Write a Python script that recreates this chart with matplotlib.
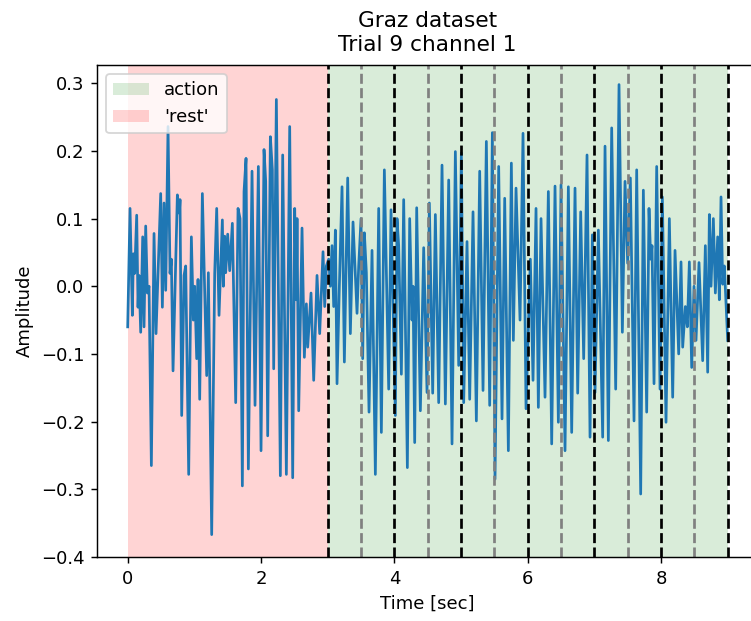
import numpy as np
import matplotlib
matplotlib.use("Agg")
from matplotlib import pyplot as plt

# signal (turning points), time in sec
time_sec = [
    0.0, 0.035, 0.07, 0.085, 0.105, 0.135, 0.155, 0.17, 0.195, 0.225,
    0.245, 0.27, 0.295, 0.32, 0.355, 0.395, 0.425, 0.445, 0.495, 0.52,
    0.545, 0.57, 0.605, 0.635, 0.655, 0.68, 0.745, 0.775, 0.785, 0.81,
    0.845, 0.87, 0.915, 0.955, 0.985, 1.005, 1.035, 1.055, 1.08, 1.12,
    1.185, 1.21, 1.26, 1.305, 1.335, 1.37, 1.42, 1.435, 1.455, 1.47,
    1.5, 1.53, 1.57, 1.62, 1.655, 1.685, 1.72, 1.745, 1.775, 1.81,
    1.865, 1.91, 1.96, 2.0, 2.045, 2.07, 2.1, 2.14, 2.17, 2.19,
    2.23, 2.29, 2.325, 2.38, 2.43, 2.475, 2.505, 2.53, 2.54, 2.565,
    2.615, 2.65, 2.68, 2.7, 2.75, 2.79, 2.84, 2.88, 2.93, 2.955,
    2.98, 3.015, 3.04, 3.065, 3.09, 3.115, 3.14, 3.175, 3.215, 3.25,
    3.3, 3.34, 3.38, 3.44, 3.465, 3.5, 3.525, 3.55, 3.58, 3.62,
    3.665, 3.715, 3.765, 3.805, 3.85, 3.915, 3.95, 4.015, 4.04, 4.065,
    4.105, 4.14, 4.195, 4.23, 4.265, 4.28, 4.305, 4.335, 4.39, 4.44,
    4.49, 4.525, 4.575, 4.615, 4.665, 4.715, 4.765, 4.815, 4.865, 4.915,
    4.965, 5.005, 5.04, 5.09, 5.13, 5.18, 5.23, 5.28, 5.33, 5.38,
    5.43, 5.47, 5.51, 5.565, 5.615, 5.655, 5.71, 5.755, 5.785, 5.825,
    5.885, 5.93, 5.975, 6.04, 6.08, 6.125, 6.16, 6.2, 6.26, 6.31,
    6.36, 6.41, 6.46, 6.5, 6.56, 6.61, 6.66, 6.71, 6.75, 6.795,
    6.84, 6.89, 6.935, 6.97, 7.01, 7.06, 7.125, 7.16, 7.21, 7.26,
    7.32, 7.37, 7.42, 7.46, 7.5, 7.54, 7.595, 7.635, 7.695, 7.735,
    7.785, 7.82, 7.845, 7.865, 7.895, 7.935, 7.985, 8.02, 8.075, 8.125,
    8.175, 8.21, 8.265, 8.3, 8.325, 8.365, 8.395, 8.425, 8.46, 8.495,
    8.525, 8.57, 8.625, 8.665, 8.7, 8.725, 8.75, 8.785, 8.815, 8.85,
    8.875, 8.9, 8.925, 8.95, 9.0,
]
amplitude = [
    -0.06, 0.115, -0.043, 0.048, 0.019, 0.105, -0.031, 0.016, -0.068, 0.073,
    -0.06, 0.089, -0.01, 0.0, -0.265, 0.078, -0.07, -0.01, 0.137, -0.031,
    0.123, -0.006, 0.236, 0.019, 0.04, -0.125, 0.135, 0.108, 0.128, -0.191,
    0.016, 0.03, -0.278, 0.073, -0.05, 0.0, -0.107, 0.01, -0.167, 0.137,
    -0.132, 0.02, -0.367, 0.019, 0.115, -0.043, 0.098, 0.0, 0.074, 0.02,
    0.077, 0.023, 0.093, -0.172, 0.115, 0.1, -0.295, 0.14, 0.189, -0.27,
    0.17, -0.176, 0.177, -0.243, 0.202, 0.155, -0.221, 0.221, 0.172, -0.122,
    0.276, -0.28, 0.194, -0.278, 0.236, -0.283, 0.115, -0.02, 0.1, -0.184,
    0.086, -0.105, -0.026, -0.09, -0.01, -0.139, 0.016, -0.07, 0.051, -0.03,
    0.03, 0.04, 0.0, 0.06, -0.03, 0.083, -0.144, 0.0, 0.147, -0.112,
    0.16, -0.07, 0.095, -0.04, 0.03, 0.1, -0.107, 0.079, 0.02, -0.186,
    0.053, -0.278, 0.115, -0.216, 0.172, -0.152, 0.113, -0.191, 0.1, 0.06,
    -0.13, 0.128, -0.268, 0.1, -0.05, 0.0, -0.231, 0.116, -0.184, 0.057,
    -0.157, 0.123, -0.158, 0.106, -0.172, 0.179, -0.174, 0.157, -0.233, 0.199,
    -0.117, 0.197, -0.172, 0.066, -0.167, 0.11, -0.199, 0.17, -0.154, 0.214,
    -0.176, 0.227, -0.285, 0.177, -0.196, 0.13, -0.243, 0.182, -0.08, 0.145,
    -0.05, 0.226, -0.181, 0.04, -0.139, 0.115, -0.179, 0.1, -0.164, 0.14,
    -0.233, 0.148, -0.201, 0.15, -0.243, 0.147, -0.216, 0.145, -0.158, 0.11,
    -0.107, 0.194, -0.223, 0.076, -0.157, 0.083, -0.223, 0.207, -0.228, 0.234,
    -0.152, 0.298, -0.068, 0.155, 0.034, 0.16, -0.199, 0.172, -0.307, 0.142,
    -0.186, 0.115, 0.04, 0.06, -0.144, 0.177, -0.152, 0.132, -0.201, 0.1,
    -0.164, 0.053, -0.1, 0.036, -0.09, -0.03, -0.06, 0.036, -0.12, 0.0,
    -0.08, 0.035, -0.11, 0.06, -0.127, 0.106, 0.0, 0.1, -0.01, 0.073,
    -0.02, 0.132, 0.003, 0.03, -0.08,
]

rest_span = (0, 3)
action_span = (3, 9)
second_marks = [3, 4, 5, 6, 7, 8, 9]
half_marks = [3.5, 4.5, 5.5, 6.5, 7.5, 8.5]

DPI = 130
fig = plt.figure(figsize=(751 / DPI, 621 / DPI), dpi=DPI)
# right spine falls just outside the saved picture, as in the reference
ax = fig.add_axes([0.1292, 0.1026, 0.8797, 0.7928])

ax.axvspan(*action_span, color='green', alpha=0.15, lw=0, label='action')
ax.axvspan(*rest_span, color='red', alpha=0.17, lw=0, label="'rest'")
ax.plot(time_sec, amplitude, color='tab:blue', lw=1.5)
for m in second_marks:
    ax.axvline(m, color='k', linestyle='--')
for m in half_marks:
    ax.axvline(m, color='gray', linestyle='--')

ax.set_xlim(-0.46, 9.45)
ax.set_ylim(-0.4005, 0.327)
ax.set_xticks([0, 2, 4, 6, 8])
ax.set_yticks(np.arange(-0.4, 0.31, 0.1))
ax.set_xlabel('Time [sec]')
ax.set_ylabel('Amplitude')
ax.set_title('Graz dataset\nTrial 9 channel 1', pad=8)
ax.legend(loc='upper left')

fig.savefig('out.png', dpi=DPI)
